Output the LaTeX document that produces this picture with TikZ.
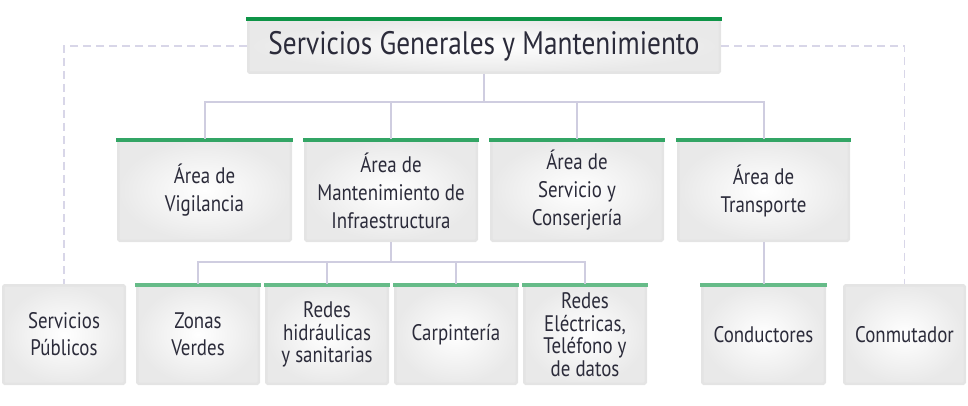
\documentclass[tikz,border=0pt]{standalone}
\usepackage{fontspec}
\setmainfont{PT Sans}[FakeStretch=0.84]
\begin{document}
\begin{tikzpicture}[x=1pt,y=-1pt]
\definecolor{boxborder}{HTML}{E4E4E4}
\definecolor{boxfill}{HTML}{E9E9E9}
\definecolor{txt}{HTML}{2B2B3A}
\definecolor{gA}{HTML}{0E9447}
\definecolor{gB}{HTML}{33A565}
\definecolor{gC}{HTML}{66BB88}
\definecolor{lineC}{HTML}{CFCDE0}
\definecolor{dashC}{HTML}{D8D6E8}
\tikzset{
  orgbox/.style={draw=boxborder, line width=2.5pt, inner color=white, outer color=boxfill,
    rounded corners=1.5pt, align=center, text=txt, inner sep=0pt, font=\fontsize{22.5}{28}\selectfont},
  tight/.style={font=\fontsize{22.5}{22.5}\selectfont},
  mid/.style={font=\fontsize{22.5}{27}\selectfont},
  conn/.style={draw=lineC, line width=2pt},
  dconn/.style={draw=dashC, line width=1.6pt, dash pattern=on 8pt off 5pt},
}
\useasboundingbox (0,0) rectangle (968,406);
% top
\node[orgbox, minimum width=471.5pt, minimum height=53.5pt, font=\fontsize{32.5}{34}\selectfont] (top) at (484,46) {Servicios Generales y Mantenimiento};
% level 2
\node[orgbox, minimum width=172.5pt, minimum height=100.5pt] (vig) at (204.5,190.5) {Área de\\Vigilancia};
\node[orgbox, minimum width=171.5pt, minimum height=100.5pt] (mant) at (391,190.5) {Área de\\Mantenimiento de\\Infraestructura};
\node[orgbox, minimum width=171.5pt, minimum height=100.5pt] (serv) at (577,190.5) {Área de\\Servicio y\\Conserjería};
\node[orgbox, minimum width=170.5pt, minimum height=100.5pt] (trans) at (763.5,190.5) {Área de\\Transporte};
% level 3
\node[orgbox, mid, minimum width=121.5pt, minimum height=98.5pt] (pub) at (64,334.5) {Servicios\\Públicos};
\node[orgbox, mid, minimum width=121.5pt, minimum height=98.5pt] (zon) at (198,334.5) {Zonas\\Verdes};
\node[orgbox, tight, minimum width=121.5pt, minimum height=98.5pt] (hid) at (327,334.5) {Redes\\hidráulicas\\y sanitarias};
\node[orgbox, mid, minimum width=121.5pt, minimum height=98.5pt] (car) at (456,334.5) {Carpintería};
\node[orgbox, tight, minimum width=121.5pt, minimum height=98.5pt] (ele) at (585,334.5) {Redes\\Eléctricas,\\Teléfono y\\de datos};
\node[orgbox, mid, minimum width=122.5pt, minimum height=98.5pt] (cond) at (763.5,334.5) {Conductores};
\node[orgbox, mid, minimum width=120.5pt, minimum height=98.5pt] (conm) at (904.5,334.5) {Conmutador};
% green bars
\foreach \n/\c in {top/gA, vig/gB, mant/gB, serv/gB, trans/gB, zon/gC, hid/gC, car/gC, ele/gC, cond/gC}{
  \fill[\c] ([xshift=-1.25pt,yshift=1.25pt]\n.north west) rectangle ([xshift=1.25pt,yshift=-3pt]\n.north east);
}
% connectors
\coordinate (j1) at (484,102);
\coordinate (j2) at (391,262);
\draw[conn] (top.south) -- (j1);
\draw[conn] (vig.north) |- (j1);
\draw[conn] (trans.north) |- (j1);
\draw[conn] (mant.north) -- (mant.north |- j1);
\draw[conn] (serv.north) -- (serv.north |- j1);
\draw[conn] (mant.south) -- (j2);
\draw[conn] (zon.north) |- (j2);
\draw[conn] (ele.north) |- (j2);
\draw[conn] (hid.north) -- (hid.north |- j2);
\draw[conn] (car.north) -- (car.north |- j2);
\draw[conn] (trans.south) -- (cond.north);
\draw[dconn] (top.west) -| (pub.north);
\draw[dconn] (top.east) -| (conm.north);
\end{tikzpicture}
\end{document}
